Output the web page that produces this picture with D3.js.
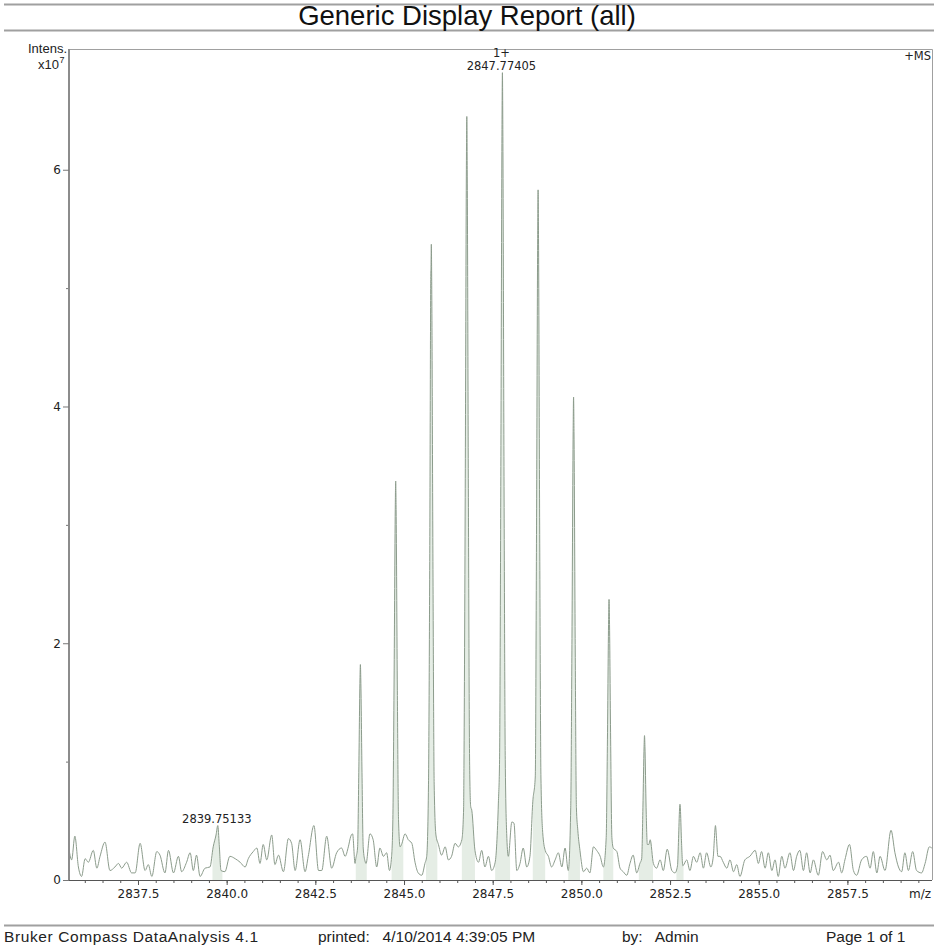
<!DOCTYPE html>
<html>
<head>
<meta charset="utf-8">
<script src="https://cdn.jsdelivr.net/npm/d3@7"></script>
<style>
	body { margin: 0; background: #fff; }
	svg { display: block; }
</style>
</head>
<body>
<svg id="chart"></svg>
<script>

// baseline noise, [m/z, intensity x10^7]
var noise = [
	[2835.56,0.25],[2835.63,0.17],[2835.72,0.37],[2835.82,0.11],[2835.91,0.03],[2836.01,0.18],[2836.10,0.15],
	[2836.24,0.25],[2836.34,0.10],[2836.43,0.20],[2836.57,0.32],[2836.71,0.08],[2836.85,0.11],[2836.95,0.14],
	[2837.04,0.10],[2837.18,0.15],[2837.32,0.06],[2837.42,0.06],[2837.56,0.31],[2837.70,0.08],[2837.79,0.13],
	[2837.89,0.03],[2838.03,0.24],[2838.12,0.21],[2838.26,0.06],[2838.36,0.25],[2838.50,0.06],[2838.64,0.20],
	[2838.73,0.07],[2838.87,0.15],[2838.97,0.23],[2839.06,0.08],[2839.15,0.21],[2839.25,0.03],[2839.39,0.10],
	[2839.53,0.11],[2839.62,0.28],[2839.70,0.38],[2839.75,0.46],[2839.79,0.30],[2839.84,0.08],[2839.95,0.07],
	[2840.09,0.20],[2840.24,0.18],[2840.38,0.15],[2840.52,0.11],[2840.61,0.18],[2840.75,0.24],[2840.85,0.27],
	[2840.94,0.14],[2841.03,0.30],[2841.13,0.17],[2841.27,0.38],[2841.36,0.13],[2841.46,0.21],[2841.60,0.07],
	[2841.74,0.35],[2841.83,0.31],[2841.93,0.08],[2842.07,0.34],[2842.21,0.07],[2842.30,0.20],[2842.46,0.46],
	[2842.59,0.08],[2842.68,0.08],[2842.82,0.37],[2842.96,0.10],[2843.10,0.23],[2843.24,0.27],[2843.34,0.20],
	[2843.43,0.28],[2843.50,0.37],[2843.55,0.39],[2843.62,0.14],
	[2843.93,0.14],[2844.04,0.39],[2844.13,0.34],[2844.23,0.11],[2844.32,0.27],[2844.42,0.20],[2844.51,0.23],
	[2844.59,0.08],[2844.65,0.20],
	[2844.93,0.30],[2845.03,0.39],[2845.12,0.34],[2845.22,0.31],[2845.31,0.15],[2845.40,0.06],[2845.50,0.04],
	[2845.59,0.14],
	[2845.97,0.30],[2846.06,0.21],[2846.16,0.28],[2846.25,0.17],[2846.34,0.20],[2846.44,0.31],[2846.53,0.28],
	[2846.63,0.34],
	[2847.00,0.25],[2847.10,0.15],[2847.19,0.25],[2847.28,0.11],[2847.38,0.20],[2847.47,0.08],[2847.57,0.15],
	[2847.66,0.65],
	[2847.94,0.20],[2848.04,0.49],[2848.10,0.48],[2848.18,0.08],[2848.27,0.14],[2848.36,0.27],[2848.46,0.11],
	[2848.55,0.20],[2848.63,0.66],
	[2848.98,0.25],[2849.07,0.20],[2849.16,0.11],[2849.26,0.17],[2849.35,0.23],[2849.45,0.11],[2849.54,0.27],
	[2849.63,0.08],
	[2849.96,0.25],[2850.06,0.07],[2850.15,0.10],[2850.24,0.06],[2850.34,0.28],[2850.43,0.25],[2850.53,0.20],
	[2850.62,0.11],
	[2850.90,0.27],[2851.00,0.24],[2851.09,0.10],[2851.18,0.07],[2851.28,0.04],[2851.37,0.14],[2851.46,0.21],
	[2851.56,0.06],[2851.65,0.14],
	[2851.94,0.34],[2852.03,0.14],[2852.12,0.10],[2852.22,0.17],[2852.31,0.08],[2852.42,0.26],[2852.55,0.08],
	[2852.64,0.06],
	[2852.97,0.17],[2853.06,0.08],[2853.16,0.20],[2853.25,0.15],[2853.35,0.23],[2853.44,0.10],[2853.53,0.23],
	[2853.65,0.11],
	[2853.91,0.20],[2854.00,0.15],[2854.10,0.10],[2854.19,0.17],[2854.29,0.07],[2854.38,0.13],[2854.47,0.03],
	[2854.61,0.17],[2854.75,0.20],[2854.90,0.25],[2854.99,0.14],[2855.08,0.24],[2855.18,0.10],[2855.27,0.23],
	[2855.37,0.08],[2855.46,0.17],[2855.55,0.03],[2855.65,0.20],[2855.74,0.10],[2855.88,0.23],[2855.98,0.08],
	[2856.07,0.20],[2856.16,0.25],[2856.26,0.08],[2856.35,0.23],[2856.45,0.06],[2856.54,0.17],[2856.68,0.04],
	[2856.80,0.24],[2856.92,0.17],[2857.01,0.21],[2857.10,0.08],[2857.25,0.15],[2857.34,0.06],[2857.43,0.17],
	[2857.56,0.30],[2857.67,0.08],[2857.76,0.04],[2857.90,0.17],[2858.04,0.20],[2858.14,0.10],[2858.23,0.24],
	[2858.33,0.06],[2858.42,0.20],[2858.56,0.08],[2858.73,0.42],[2858.84,0.23],[2858.94,0.11],[2859.03,0.07],
	[2859.12,0.23],[2859.22,0.08],[2859.34,0.24],[2859.45,0.08],[2859.59,0.06],[2859.69,0.14],[2859.81,0.28],
	[2859.88,0.27]
];

// isotope peak outlines, [m/z, intensity x10^7]
var peaks = [
	[2843.64,0.18],[2843.69,0.27],[2843.725,0.91],[2843.758,1.69],[2843.77,1.82],[2843.782,1.69],[2843.815,0.91],[2843.85,0.27],[2843.90,0.16],
	[2844.685,0.51],[2844.72,1.69],[2844.753,3.13],[2844.765,3.37],[2844.777,3.13],[2844.81,1.69],[2844.845,0.51],[2844.89,0.28],
	[2845.64,0.20],[2845.69,0.81],[2845.725,2.69],[2845.755,5.10],[2845.762,5.20],[2845.77,5.37],[2845.782,4.99],[2845.815,2.69],[2845.85,0.81],[2845.90,0.38],
	[2846.68,0.60],[2846.69,0.97],[2846.725,3.23],[2846.758,6.00],[2846.77,6.45],[2846.782,6.00],[2846.815,3.23],[2846.85,0.97],[2846.88,0.62],[2846.91,0.59],
	[2847.694,1.02],[2847.729,3.41],[2847.762,6.34],[2847.774,6.82],[2847.786,6.34],[2847.819,3.41],[2847.854,1.02],[2847.90,0.35],
	[2848.70,0.87],[2848.735,2.92],[2848.768,5.42],[2848.78,5.83],[2848.792,5.42],[2848.825,2.92],[2848.86,0.87],[2848.91,0.40],
	[2849.70,0.61],[2849.735,2.04],[2849.768,3.79],[2849.78,4.08],[2849.792,3.79],[2849.825,2.04],[2849.86,0.61],[2849.90,0.42],
	[2850.70,0.36],[2850.735,1.19],[2850.768,2.20],[2850.78,2.37],[2850.792,2.20],[2850.825,1.19],[2850.86,0.36],
	[2851.70,0.18],[2851.735,0.61],[2851.768,1.13],[2851.78,1.22],[2851.792,1.13],[2851.825,0.61],[2851.86,0.30],[2851.90,0.30],
	[2852.71,0.12],[2852.74,0.35],[2852.768,0.60],[2852.78,0.64],[2852.792,0.60],[2852.82,0.35],[2852.86,0.12],
	[2853.72,0.20],[2853.75,0.35],[2853.77,0.44],[2853.78,0.46],[2853.79,0.44],[2853.81,0.35],[2853.85,0.20]
];

// shaded peak windows (m/z)
var fillRanges = [
	[2839.60,2839.88],[2843.64,2843.95],[2844.65,2844.98],[2845.62,2845.94],[2846.63,2847.00],
	[2847.57,2847.99],[2848.63,2848.98],[2849.63,2849.96],[2850.62,2850.90],[2851.62,2852.02],[2852.68,2852.88]
];

var xMajor = [2837.5, 2840.0, 2842.5, 2845.0, 2847.5, 2850.0, 2852.5, 2855.0, 2857.5];
var xMinor = d3.range(2836.0, 2859.9, 0.5);
var yMajor = [0, 2, 4, 6];
var yMinor = [1, 3, 5];

var peakLabels = [
	{ mz: 2847.774, value: 6.82, lines: ["1+", "2847.77405"] },
	{ mz: 2839.751, value: 0.46, lines: ["2839.75133"] }
];

var footerTexts = ["Bruker Compass DataAnalysis 4.1", "printed:   4/10/2014 4:39:05 PM", "by:   Admin", "Page 1 of 1"];

var width = 934,
	height = 949,
	m = { left: 69, right: 932, top: 49, bottom: 880 };

var svg = d3.select("#chart")
	.attr("width", width)
	.attr("height", height);

var x = d3.scaleLinear().domain([2835.555, 2859.885]).range([m.left, m.right]);
var y = d3.scaleLinear().domain([0, 7.02]).range([m.bottom, m.top]);

var spectrum = noise.concat(peaks).sort((a, b) => a[0] - b[0]);

// header
svg.append("line").attr("x1", 4).attr("x2", 934).attr("y1", 4.5).attr("y2", 4.5)
	.attr("stroke", "#a0a0a0").attr("stroke-width", 2);
svg.append("line").attr("x1", 4).attr("x2", 934).attr("y1", 30.5).attr("y2", 30.5)
	.attr("stroke", "#a0a0a0").attr("stroke-width", 2);
svg.append("text")
	.attr("x", 467).attr("y", 25)
	.attr("text-anchor", "middle")
	.style("font", "27.5px 'Liberation Sans', Arial, sans-serif")
	.attr("fill", "#111")
	.text("Generic Display Report (all)");

// peak shading, clipped to peak windows
var clip = svg.append("clipPath").attr("id", "peakclip");
clip.selectAll("rect")
	.data(fillRanges)
	.join("rect")
	.attr("x", d => x(d[0]))
	.attr("width", d => x(d[1]) - x(d[0]))
	.attr("y", m.top)
	.attr("height", m.bottom - m.top);

var area = d3.area()
	.x(d => x(d[0]))
	.y0(y(0))
	.y1(d => y(d[1]))
	.curve(d3.curveMonotoneX);

svg.append("path")
	.datum(spectrum)
	.attr("clip-path", "url(#peakclip)")
	.attr("fill", "#e5ede5")
	.attr("d", area);

var line = d3.line()
	.x(d => x(d[0]))
	.y(d => y(d[1]))
	.curve(d3.curveMonotoneX);

svg.append("path")
	.datum(spectrum)
	.attr("fill", "none")
	.attr("stroke", "#8c9c8c")
	.attr("stroke-width", 1)
	.attr("d", line);

// frame
svg.append("path")
	.attr("d", `M${m.left},${m.top + 0.5}H${m.right + 0.5}V${m.bottom}`)
	.attr("fill", "none")
	.attr("stroke", "#a0a0a0")
	.attr("stroke-width", 1);

// axes
var axisFont = "12px 'DejaVu Sans', Verdana, sans-serif";

var gx = svg.append("g").attr("transform", `translate(0,${m.bottom})`);
gx.append("g")
	.call(d3.axisBottom(x).tickValues(xMinor).tickSize(3).tickFormat(""))
	.call(g => g.select(".domain").remove());
gx.append("g")
	.call(d3.axisBottom(x).tickValues(xMajor).tickSize(5).tickPadding(4).tickFormat(d3.format(".1f")))
	.call(g => g.select(".domain").attr("stroke", "#555").attr("d", `M${m.left},0.5H${m.right}`));
gx.selectAll(".tick line").attr("stroke", "#555");
gx.selectAll("text").style("font", axisFont).attr("fill", "#222");
gx.append("text")
	.attr("x", m.right - 1).attr("y", 18)
	.attr("text-anchor", "end")
	.style("font", axisFont).attr("fill", "#222")
	.text("m/z");

var gy = svg.append("g").attr("transform", `translate(${m.left},0)`);
gy.append("g")
	.call(d3.axisLeft(y).tickValues(yMinor).tickSize(3).tickFormat(""))
	.call(g => g.select(".domain").remove());
gy.append("g")
	.call(d3.axisLeft(y).tickValues(yMajor).tickSize(6).tickPadding(2).tickFormat(d3.format("d")))
	.call(g => g.select(".domain").attr("stroke", "#8c8c8c").attr("stroke-width", 2).attr("d", `M0,${m.top}V${m.bottom}`));
gy.selectAll(".tick line").attr("stroke", "#777");
gy.selectAll("text").style("font", axisFont).attr("fill", "#222");

// axis title
svg.append("text")
	.attr("x", 67).attr("y", 53)
	.attr("text-anchor", "end")
	.style("font", "13px 'Liberation Sans', Arial, sans-serif")
	.attr("fill", "#222")
	.text("Intens.");
svg.append("text")
	.attr("x", 59).attr("y", 69)
	.attr("text-anchor", "end")
	.style("font", "13px 'Liberation Sans', Arial, sans-serif")
	.attr("fill", "#222")
	.text("x10");
svg.append("text")
	.attr("x", 59.5).attr("y", 63)
	.style("font", "9px 'Liberation Sans', Arial, sans-serif")
	.attr("fill", "#222")
	.text("7");

svg.append("text")
	.attr("x", m.right - 1).attr("y", 60)
	.attr("text-anchor", "end")
	.style("font", "11.5px 'DejaVu Sans', Verdana, sans-serif")
	.attr("fill", "#222")
	.text("+MS");

// peak annotations
peakLabels.forEach(p => {
	var n = p.lines.length;
	svg.append("text")
		.attr("text-anchor", "middle")
		.style("font", "11.5px 'DejaVu Sans', Verdana, sans-serif")
		.attr("fill", "#222")
		.selectAll("tspan")
		.data(p.lines)
		.join("tspan")
		.attr("x", x(p.mz) - 1)
		.attr("y", (d, i) => y(p.value) - 3 - (n - 1 - i) * 13)
		.text(d => d);
});

// footer
var footerX = [4, 318, 622, 826];
svg.append("line").attr("x1", 4).attr("x2", 934).attr("y1", 925.5).attr("y2", 925.5)
	.attr("stroke", "#a0a0a0").attr("stroke-width", 2);
svg.append("g")
	.selectAll("text")
	.data(footerTexts)
	.join("text")
	.attr("x", (d, i) => footerX[i])
	.attr("y", 942)
	.style("font", "15.5px 'Liberation Sans', Arial, sans-serif")
	.style("letter-spacing", (d, i) => i === 0 ? "0.6px" : null)
	.style("white-space", "pre")
	.attr("fill", "#222")
	.text(d => d);

</script>
</body>
</html>
